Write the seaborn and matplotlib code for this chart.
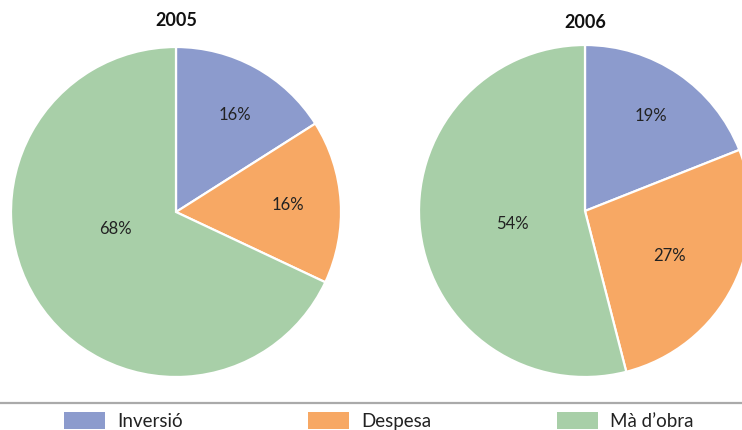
import matplotlib
matplotlib.use("Agg")
import matplotlib.pyplot as plt
from matplotlib.patches import Patch
from matplotlib.lines import Line2D
import seaborn as sns

categories = ["Inversió", "Despesa", "Mà d’obra"]
years = ["2005", "2006"]
values_2005 = [16, 16, 68]
values_2006 = [19, 27, 54]
colors = ["#8c9bcd", "#f7a864", "#a8cfa8"]

sns.set_theme(style="white")
plt.rcParams["font.family"] = ["Lato", "DejaVu Sans"]

W, H = 742, 430
fig = plt.figure(figsize=(W / 100, H / 100), dpi=100)

# label placement (in radius units relative to pie centre)
label_pos = {
    "2005": [(0.36, 0.59), (0.68, 0.04), (-0.37, -0.10)],
    "2006": [(0.40, 0.57), (0.51, -0.27), (-0.44, -0.08)],
}
# pie centre (px) and radius (px)
geo = {"2005": (176, 212, 165), "2006": (585, 211, 166)}
title_y = {"2005": 20, "2006": 22}

for year, vals in zip(years, [values_2005, values_2006]):
    cx, cy, r = geo[year]
    ax = fig.add_axes([(cx - r) / W, 1 - (cy + r) / H, 2 * r / W, 2 * r / H])
    ax.pie(vals, colors=colors, startangle=90, counterclock=False,
           radius=1, wedgeprops=dict(edgecolor="white", linewidth=1.6))
    ax.set_xlim(-1, 1)
    ax.set_ylim(-1, 1)
    ax.set_aspect("equal")
    ax.axis("off")
    for v, (lx, ly) in zip(vals, label_pos[year]):
        ax.text(lx, ly, f"{v}%", ha="center", va="center", fontsize=12,
                color="#222222")
    fig.text(cx / W, 1 - title_y[year] / H, year, ha="center", va="center",
             fontsize=13, fontweight="bold", color="#111111")

# separator line above legend
fig.add_artist(Line2D([0, 1], [1 - 403 / H, 1 - 403 / H], transform=fig.transFigure,
                      color="#aaaaaa", linewidth=1.6))

handles = [Patch(facecolor=c, edgecolor="none") for c in colors]
fig.legend(handles, categories, loc="upper left",
           bbox_to_anchor=(64 / W, 1 - 412 / H), ncol=3, frameon=False,
           fontsize=13.5, handlelength=2.2, handleheight=1.0,
           handletextpad=0.62, columnspacing=6.7, borderpad=0,
           borderaxespad=0, labelcolor="#222222")

fig.savefig("out.png", dpi=100)
